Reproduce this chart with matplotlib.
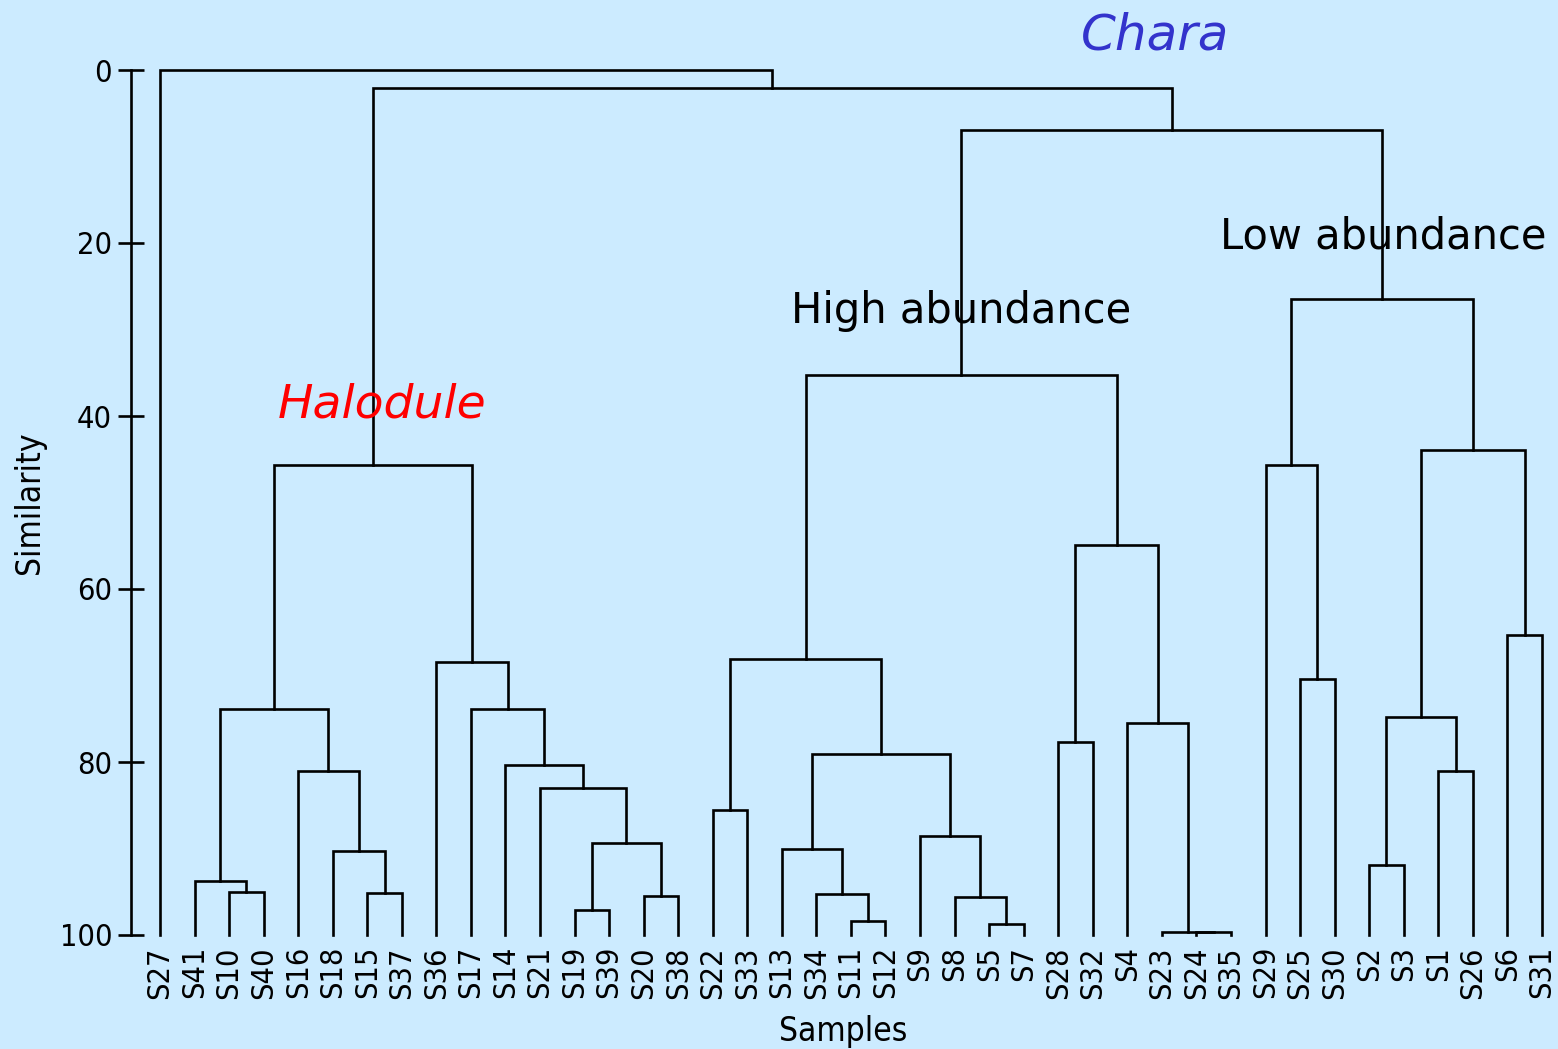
import matplotlib
matplotlib.use("Agg")
import matplotlib.pyplot as plt

# leaf order along the x axis
leaves = ["S27", "S41", "S10", "S40", "S16", "S18", "S15", "S37", "S36", "S17",
          "S14", "S21", "S19", "S39", "S20", "S38", "S22", "S33", "S13", "S34",
          "S11", "S12", "S9", "S8", "S5", "S7", "S28", "S32", "S4", "S23",
          "S24", "S35", "S29", "S25", "S30", "S2", "S3", "S1", "S26", "S6", "S31"]

# merges: left, right (leaf name or index of earlier merge), similarity
merge_left = ["S10", "S41", "S15", "S18", "S16", 1, "S19", "S20", 6, "S21",
              "S14", "S17", "S36", 5, "S22", "S11", "S34", "S13", "S5", "S8",
              "S9", 17, 14, "S28", "S24", "S23", "S4", 23, 22, "S25",
              "S29", "S2", "S1", 31, "S6", 33, 30, 28, 13, "S27"]
merge_right = ["S40", 0, "S37", 2, 3, 4, "S39", "S38", 7, 8,
               9, 10, 11, 12, "S33", "S12", 15, 16, "S7", 18,
               19, 20, 21, "S32", "S35", 24, 25, 26, 27, "S30",
               29, "S3", "S26", 32, "S31", 34, 35, 36, 37, 38]
merge_sim = [95.0, 93.8, 95.1, 90.3, 81.0, 73.9, 97.1, 95.5, 89.4, 83.0,
             80.3, 73.9, 68.4, 45.7, 85.5, 98.4, 95.3, 90.1, 98.7, 95.6,
             88.6, 79.1, 68.1, 77.7, 99.7, 99.6, 75.5, 54.9, 35.3, 70.4,
             45.7, 91.9, 81.0, 74.8, 65.3, 43.9, 26.5, 6.9, 2.1, 0.0]

plt.rcParams['font.family'] = ['DejaVu Sans']
plt.rcParams['font.stretch'] = 'condensed'
bg = '#CCEBFF'

fig = plt.figure(figsize=(15.58, 10.49), dpi=100, facecolor=bg)
ax = fig.add_axes([131 / 1558, 1 - 935 / 1049, 1424 / 1558, 865 / 1049])
ax.set_facecolor(bg)

pos = {name: (i, 100.0) for i, name in enumerate(leaves)}
node = []


def get(ref):
    return node[ref] if isinstance(ref, int) else pos[ref]


for l, r, s in zip(merge_left, merge_right, merge_sim):
    xl, yl = get(l)
    xr, yr = get(r)
    ax.plot([xl, xl, xr, xr], [yl, s, s, yr], color='black', lw=1.9,
            clip_on=False, solid_joinstyle='miter')
    node.append(((xl + xr) / 2, s))

ax.set_xlim(-0.84, len(leaves) - 1 + 0.38)
ax.set_ylim(100, 0)

for sp in ['top', 'right', 'bottom']:
    ax.spines[sp].set_visible(False)
ax.spines['left'].set_linewidth(1.9)
ax.spines['left'].set_bounds(0, 100)

ax.set_yticks([0, 20, 40, 60, 80, 100])
ax.tick_params(axis='y', direction='inout', length=19, width=1.9, labelsize=22, pad=4)
ax.set_xticks(range(len(leaves)))
ax.set_xticklabels(leaves, rotation=90, fontsize=22)
ax.tick_params(axis='x', length=0, pad=8)

ax.set_ylabel("Similarity", fontsize=24, labelpad=10)
ax.set_xlabel("Samples", fontsize=24, labelpad=12)

ax.text(28.8, -4.0, "Chara", color='#3333CC', fontsize=36, style='italic',
        family='DejaVu Sans', stretch='normal', ha='center', va='center')
ax.text(6.43, 38.7, "Halodule", color='red', fontsize=34, style='italic',
        family='DejaVu Sans', stretch='normal', ha='center', va='center')
ax.text(23.2, 27.9, "High abundance", color='black', fontsize=30,
        family='DejaVu Sans', stretch='normal', ha='center', va='center')
ax.text(35.4, 19.3, "Low abundance", color='black', fontsize=30,
        family='DejaVu Sans', stretch='normal', ha='center', va='center')

fig.savefig("out.png", dpi=100, facecolor=bg)
